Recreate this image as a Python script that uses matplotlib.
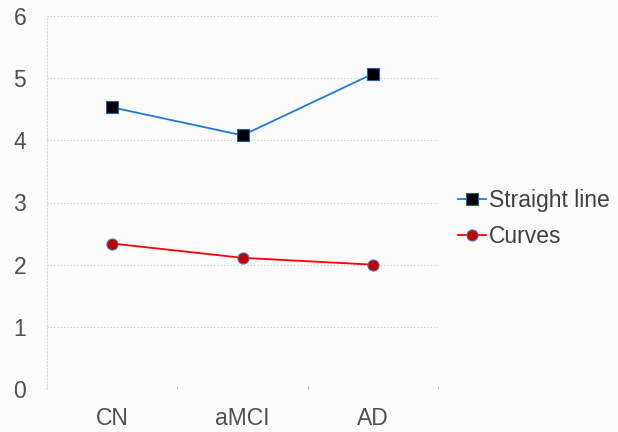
import matplotlib
matplotlib.use("Agg")
import matplotlib.pyplot as plt

# Datos
categories = ['CN', 'aMCI', 'AD']
straight_line = [4.53, 4.08, 5.07]
curves = [2.34, 2.11, 2.00]

plt.rcParams['font.family'] = ['Liberation Sans', 'DejaVu Sans']

fig = plt.figure(figsize=(6.18, 4.32), dpi=100)
fig.patch.set_facecolor('#fbfbfb')
ax = fig.add_axes([0.076, 0.0995, 0.633, 0.8635])
ax.set_facecolor('#fbfbfb')

x = [0.5, 1.5, 2.5]
ax.plot(x, straight_line, color='#1f7ad6', lw=1.3, marker='s', markersize=8,
        markerfacecolor='black', markeredgecolor='#1f5fa8', markeredgewidth=0.8,
        label='Straight line')
ax.plot(x, curves, color='#ff0000', lw=1.3, marker='o', markersize=8,
        markerfacecolor='#c00000', markeredgecolor='#4a7ab8', markeredgewidth=0.8,
        label='Curves')

ax.set_xlim(0, 3)
ax.set_ylim(0, 6)
ax.set_yticks(range(7))
ax.set_xticks(x)
ax.set_xticklabels(categories)
ax.set_xticks([1, 2, 3], minor=True)

ax.grid(axis='y', color='#c8c8c8', linestyle=(0, (1, 2)), lw=0.8)
for s in ['top', 'right']:
    ax.spines[s].set_visible(False)
ax.spines['left'].set_color('#d8d8d8')
ax.spines['left'].set_linestyle((0, (1, 2)))
ax.spines['bottom'].set_visible(False)

ax.tick_params(axis='y', length=0, pad=15, labelsize=16.5, labelcolor='#505050')
ax.tick_params(axis='x', which='major', length=0, pad=13, labelsize=16.5, labelcolor='#505050')
ax.tick_params(axis='x', which='minor', length=2, color='#b0b0b0', direction='in')

leg = ax.legend(loc='center left', bbox_to_anchor=(1.051, 0.458), frameon=False,
                fontsize=16.5, handlelength=1.22, handletextpad=0.13, labelspacing=0.57,
                borderpad=0, borderaxespad=0, labelcolor='#404040')

fig.savefig('out.png', dpi=100, facecolor=fig.get_facecolor())
